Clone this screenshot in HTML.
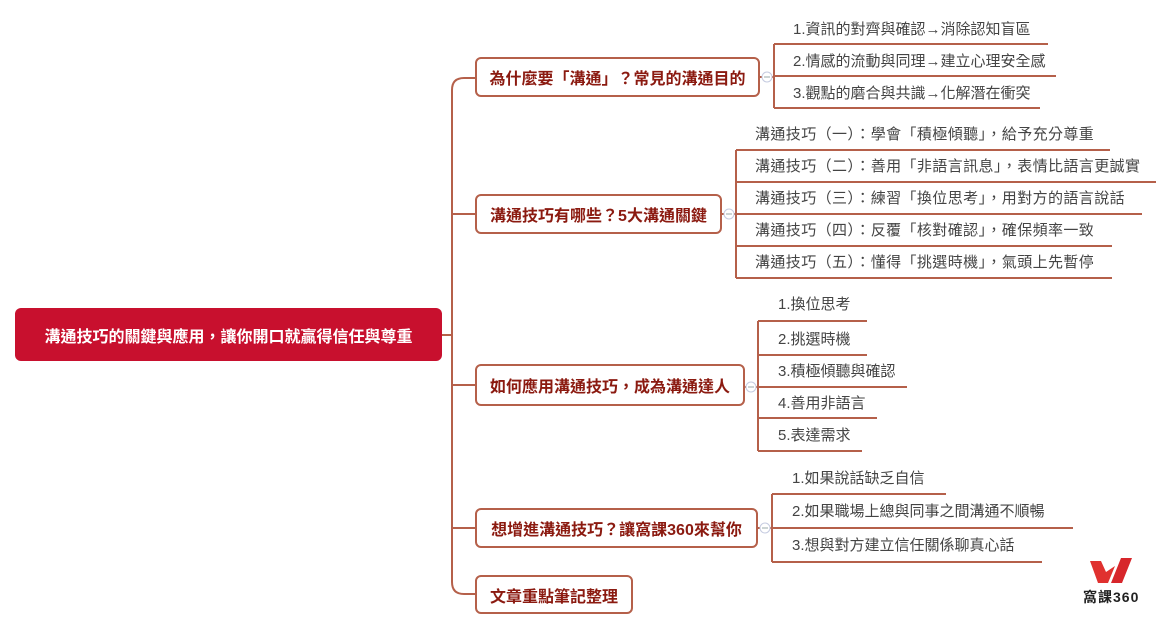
<!DOCTYPE html>
<html><head><meta charset="utf-8"><style>
body{margin:0;width:1174px;height:631px;background:#fff;position:relative;overflow:hidden;font-family:"Liberation Sans","Noto Sans CJK TC",sans-serif}
.t{position:absolute;font-size:15px;color:#444;white-space:nowrap;line-height:18px}
.g2{letter-spacing:0.4px}
.n{position:absolute;border:2px solid #b5604a;border-radius:6px;box-sizing:border-box;background:#fff;color:#8b1a10;font-weight:bold;font-size:16px;display:flex;align-items:center;justify-content:center;white-space:nowrap}
.root{position:absolute;left:15px;top:308px;width:427px;height:53px;background:#c8102e;border-radius:6px;color:#fff;font-weight:bold;font-size:16px;display:flex;align-items:center;justify-content:center}
</style></head><body>
<svg width="1174" height="631" style="position:absolute;left:0;top:0" fill="none" stroke="#b5604a" stroke-width="2">
<path d="M442 335 H452"/>
<path d="M475 78 H464 Q452 78 452 90 V582 Q452 594 464 594 H475"/>
<path d="M452 214 H475 M452 385 H475 M452 528 H475"/>
<path d="M760 77 H774 M774 44 V108 M774 44 H1048 M774 76 H1056 M774 108 H1040"/>
<path d="M722 214 H736 M736 150 V278 M736 150 H1110 M736 182 H1156 M736 214 H1142 M736 246 H1112 M736 278 H1112"/>
<path d="M745 387 H758 M758 321 V451 M758 321 H867 M758 355 H867 M758 387 H907 M758 418 H877 M758 451 H862"/>
<path d="M758 528 H772 M772 494 V562 M772 494 H946 M772 528 H1073 M772 562 H1042"/>
<g stroke="#c5cbe0" stroke-width="1" fill="#fff"><circle cx="767" cy="77" r="5"/><circle cx="729" cy="214" r="5"/><circle cx="751" cy="387" r="5"/><circle cx="765" cy="528" r="5"/></g>
<g stroke="#9aa" stroke-width="1"><path d="M764 77h6M726 214h6M748 387h6M762 528h6"/></g>
<path d="M1090 561 l11 0 l5 11 l9 -6 l-7 17 l-10 0 z" fill="#e0312f" stroke="none"/>
<path d="M1121 558 l11 0 l-10 25 l-11 0 z" fill="#d7262b" stroke="none"/>
</svg>
<div class="root">溝通技巧的關鍵與應用，讓你開口就贏得信任與尊重</div>
<div class="n" style="left:475px;top:57px;width:285px;height:40px">為什麼要「溝通」？常見的溝通目的</div>
<div class="n" style="left:475px;top:194px;width:247px;height:40px">溝通技巧有哪些？5大溝通關鍵</div>
<div class="n" style="left:475px;top:364px;width:270px;height:42px">如何應用溝通技巧，成為溝通達人</div>
<div class="n" style="left:475px;top:508px;width:283px;height:40px">想增進溝通技巧？讓窩課360來幫你</div>
<div class="n" style="left:475px;top:575px;width:158px;height:39px">文章重點筆記整理</div>
<div class="t" style="left:793px;top:21px">1.資訊的對齊與確認→消除認知盲區</div>
<div class="t" style="left:793px;top:53px">2.情感的流動與同理→建立心理安全感</div>
<div class="t" style="left:793px;top:85px">3.觀點的磨合與共識→化解潛在衝突</div>
<div class="t g2" style="left:755px;top:126px">溝通技巧（一）：學會「積極傾聽」，給予充分尊重</div>
<div class="t g2" style="left:755px;top:158px">溝通技巧（二）：善用「非語言訊息」，表情比語言更誠實</div>
<div class="t g2" style="left:755px;top:190px">溝通技巧（三）：練習「換位思考」，用對方的語言說話</div>
<div class="t g2" style="left:755px;top:222px">溝通技巧（四）：反覆「核對確認」，確保頻率一致</div>
<div class="t g2" style="left:755px;top:254px">溝通技巧（五）：懂得「挑選時機」，氣頭上先暫停</div>
<div class="t" style="left:778px;top:296px">1.換位思考</div>
<div class="t" style="left:778px;top:331px">2.挑選時機</div>
<div class="t" style="left:778px;top:363px">3.積極傾聽與確認</div>
<div class="t" style="left:778px;top:395px">4.善用非語言</div>
<div class="t" style="left:778px;top:427px">5.表達需求</div>
<div class="t" style="left:792px;top:470px">1.如果說話缺乏自信</div>
<div class="t" style="left:792px;top:503px">2.如果職場上總與同事之間溝通不順暢</div>
<div class="t" style="left:792px;top:537px">3.想與對方建立信任關係聊真心話</div>
<div class="t" style="left:1083px;top:588px;font-size:14px;font-weight:bold;color:#222;letter-spacing:1px">窩課360</div>
</body></html>
